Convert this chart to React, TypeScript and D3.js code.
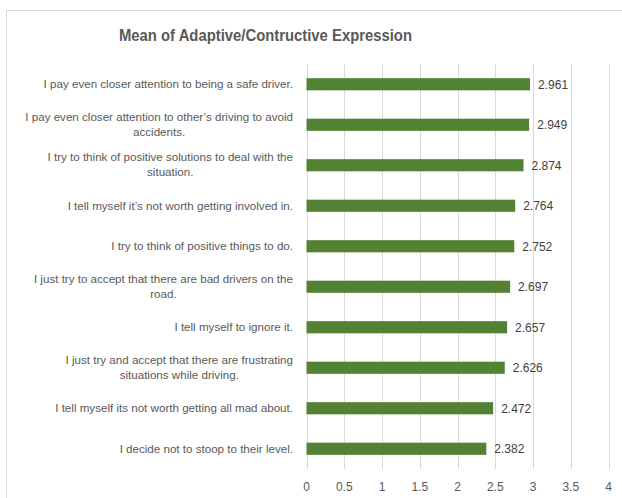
import React, { useEffect, useRef } from 'react';
import * as d3 from 'd3';

const title = 'Mean of Adaptive/Contructive Expression';

// top to bottom, each item's lines as Excel wrapped them
const labels: string[][] = [
  ['I pay even closer attention to being a safe driver.'],
  ['I pay even closer attention to other\u2019s driving to avoid', 'accidents.'],
  ['I try to think of positive solutions to deal with the', 'situation.'],
  ['I tell myself it\u2019s not worth getting involved in.'],
  ['I try to think of positive things to do.'],
  ['I just try to accept that there are bad drivers on the', 'road.'],
  ['I tell myself to ignore it.'],
  ['I just try and accept that there are frustrating', 'situations while driving.'],
  ['I tell myself its not worth getting all mad about.'],
  ['I decide not to stoop to their level.'],
];
const means = [2.961, 2.949, 2.874, 2.764, 2.752, 2.697, 2.657, 2.626, 2.472, 2.382];
const ticks = [0, 0.5, 1, 1.5, 2, 2.5, 3, 3.5, 4];

const FONT = '"Liberation Sans", Arial, sans-serif';

export default function App() {
  const svgRef = useRef<SVGSVGElement>(null);

  useEffect(() => {
    const w = 622;
    const h = 498;
    const svg = d3.select(svgRef.current).attr('width', w).attr('height', h);
    svg.selectAll('*').remove();

    svg
      .append('rect')
      .attr('x', 6.5)
      .attr('y', 10.5)
      .attr('width', 640)
      .attr('height', 520)
      .attr('fill', '#fff')
      .attr('stroke', '#d9d9d9');

    svg
      .append('text')
      .attr('x', 265.5)
      .attr('y', 41)
      .attr('text-anchor', 'middle')
      .attr('font-family', FONT)
      .attr('font-size', 16)
      .attr('font-weight', 'bold')
      .attr('fill', '#595959')
      .attr('textLength', 293)
      .attr('lengthAdjust', 'spacingAndGlyphs')
      .text(title);

    const x = d3.scaleLinear().domain([0, 4]).range([306.5, 608.5]);
    const y = d3
      .scaleBand<number>()
      .domain(d3.range(means.length))
      .range([64, 469])
      .paddingInner(0.7)
      .paddingOuter(0.35);

    svg
      .append('g')
      .selectAll('line')
      .data(ticks)
      .join('line')
      .attr('x1', (d) => Math.round(x(d)) + 0.5)
      .attr('x2', (d) => Math.round(x(d)) + 0.5)
      .attr('y1', 64)
      .attr('y2', 469)
      .attr('stroke', '#d9d9d9');

    svg
      .append('g')
      .selectAll('text')
      .data(ticks)
      .join('text')
      .attr('x', (d) => x(d))
      .attr('y', 491)
      .attr('text-anchor', 'middle')
      .attr('font-family', FONT)
      .attr('font-size', 12)
      .attr('fill', '#595959')
      .text((d) => String(d));

    svg
      .append('g')
      .selectAll('rect')
      .data(means)
      .join('rect')
      .attr('x', x(0))
      .attr('y', (d, i) => y(i)!)
      .attr('width', (d) => x(d) - x(0))
      .attr('height', y.bandwidth())
      .attr('fill', '#548235');

    svg
      .append('g')
      .selectAll('text')
      .data(means)
      .join('text')
      .attr('x', (d) => x(d) + 8)
      .attr('y', (d, i) => y(i)! + y.bandwidth() / 2 + 4.5)
      .attr('font-family', FONT)
      .attr('font-size', 12)
      .attr('fill', '#404040')
      .text((d) => d.toFixed(3));

    // category labels: block right-aligned, lines centred within block
    const right = 293;
    const lineH = 15;
    const g = svg.append('g');
    labels.forEach((lines, i) => {
      const cy = y(i)! + y.bandwidth() / 2;
      const t = g
        .append('text')
        .attr('font-family', FONT)
        .attr('font-size', 11.6)
        .attr('fill', '#595959');
      const spans = lines.map((ln) => t.append('tspan').text(ln));
      const widths = spans.map((s) => (s.node() as SVGTSpanElement).getComputedTextLength());
      const maxW = d3.max(widths)!;
      const y0 = lines.length === 1 ? cy + 4 : cy - 4;
      spans.forEach((s, k) => {
        s.attr('x', lines.length === 1 ? right : right - maxW / 2)
          .attr('text-anchor', lines.length === 1 ? 'end' : 'middle')
          .attr('y', y0 + k * lineH);
      });
    });
  }, []);

  return (
    <div>
      <svg ref={svgRef} style={{ position: 'absolute', left: 0, top: 0 }}></svg>
    </div>
  );
}
